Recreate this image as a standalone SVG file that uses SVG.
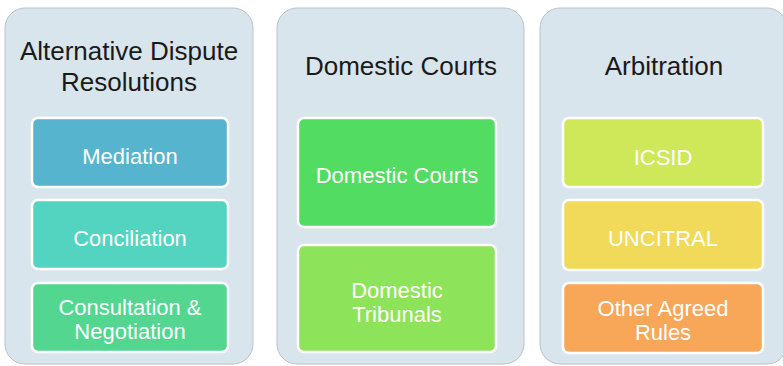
<svg xmlns="http://www.w3.org/2000/svg" width="783" height="366" viewBox="0 0 783 366">
  <defs>
    <style>
      .panel { fill: #d9e5ec; stroke: #b9c3c9; stroke-width: 1; }
      .item { stroke: #ffffff; stroke-width: 2.5; }
      .title { font-family: "Liberation Sans", Arial, sans-serif; font-size: 26px; fill: #1a1a1a; text-anchor: middle; }
      .label { font-family: "Liberation Sans", Arial, sans-serif; font-size: 22px; fill: #ffffff; text-anchor: middle; }
    </style>
  </defs>
  <rect width="783" height="366" fill="#ffffff"/>

  <!-- Alternative Dispute Resolutions column -->
  <g id="adr">
    <rect class="panel" x="5" y="8" width="248" height="356" rx="20"/>
    <text class="title" x="129" y="60">Alternative Dispute</text>
    <text class="title" x="129" y="91">Resolutions</text>
  </g>
  <g id="mediation">
    <rect class="item" x="32" y="118" width="196" height="69" rx="6" fill="#56b4cf"/>
    <text class="label" x="130" y="164">Mediation</text>
  </g>
  <g id="conciliation">
    <rect class="item" x="32" y="200" width="196" height="69" rx="6" fill="#52d4c0"/>
    <text class="label" x="130" y="246">Conciliation</text>
  </g>
  <g id="consultation">
    <rect class="item" x="32" y="283" width="196" height="69" rx="6" fill="#52d690"/>
    <text class="label" x="130" y="315">Consultation &amp;</text>
    <text class="label" x="130" y="339">Negotiation</text>
  </g>

  <!-- Domestic Courts column -->
  <g id="domestic">
    <rect class="panel" x="277" y="8" width="247" height="356" rx="20"/>
    <text class="title" x="401" y="75">Domestic Courts</text>
  </g>
  <g id="domestic-courts">
    <rect class="item" x="298" y="118" width="198" height="109" rx="6" fill="#52dc62"/>
    <text class="label" x="397" y="183">Domestic Courts</text>
  </g>
  <g id="domestic-tribunals">
    <rect class="item" x="298" y="245" width="198" height="107" rx="6" fill="#8de35a"/>
    <text class="label" x="397" y="298">Domestic</text>
    <text class="label" x="397" y="322">Tribunals</text>
  </g>

  <!-- Arbitration column -->
  <g id="arbitration">
    <rect class="panel" x="540" y="8" width="247" height="356" rx="20"/>
    <text class="title" x="664" y="75">Arbitration</text>
  </g>
  <g id="icsid">
    <rect class="item" x="563" y="118" width="200" height="69" rx="6" fill="#cee85a"/>
    <text class="label" x="663" y="165">ICSID</text>
  </g>
  <g id="uncitral">
    <rect class="item" x="563" y="200" width="200" height="70" rx="6" fill="#f1d95a"/>
    <text class="label" x="663" y="246">UNCITRAL</text>
  </g>
  <g id="other-rules">
    <rect class="item" x="563" y="283" width="200" height="70" rx="6" fill="#f8a658"/>
    <text class="label" x="663" y="316">Other Agreed</text>
    <text class="label" x="663" y="340">Rules</text>
  </g>

  <!-- no connectors in this layout -->
  <g id="connectors"/>
</svg>
